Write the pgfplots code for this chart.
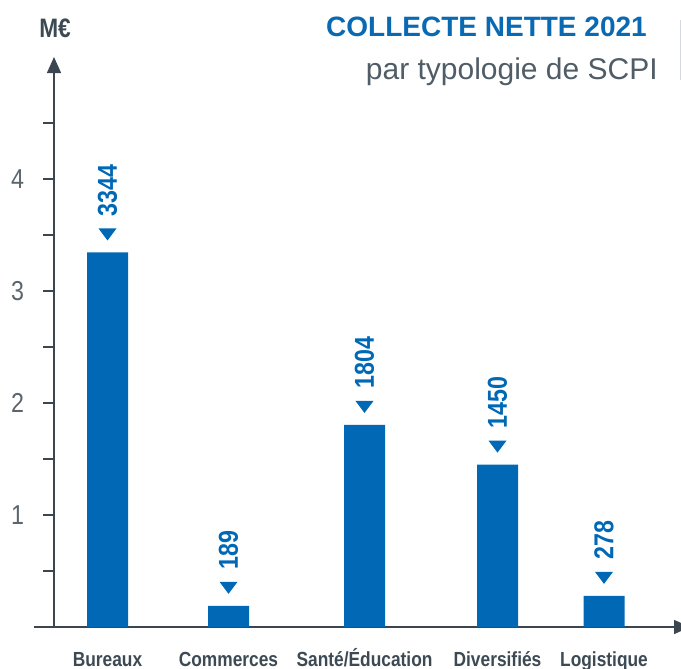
\documentclass[border=0pt]{standalone}
\usepackage{fontspec}
\setmainfont{Liberation Sans}
\newfontfamily\cond[FakeStretch=0.85]{Liberation Sans}
\usepackage{graphicx}
\usepackage{pgfplots}
\pgfplotsset{compat=1.18}
\usepackage{pgfplotstable}
\usetikzlibrary{arrows.meta}
\definecolor{barblue}{HTML}{0068B4}
\definecolor{titleblue}{HTML}{0A69B3}
\definecolor{axisgray}{HTML}{3B4650}
\definecolor{txtgray}{HTML}{3D4A54}
\definecolor{tickgray}{HTML}{5A656E}
\definecolor{subgray}{HTML}{505C66}
\definecolor{linegray}{HTML}{D5D9DD}

\pgfplotstableread{
x y lab
53.5 3.344 3344
174.5 0.189 189
310.5 1.804 1804
443.5 1.450 1450
550 0.278 278
}\datatable

\pgfdeclareplotmark{dtri}{%
  \pgfpathmoveto{\pgfpoint{-6.75pt}{4.5pt}}%
  \pgfpathlineto{\pgfpoint{6.75pt}{4.5pt}}%
  \pgfpathlineto{\pgfpoint{0pt}{-4.5pt}}%
  \pgfpathclose\pgfusepathqfill}

\begin{document}
\begin{tikzpicture}
\path[use as bounding box] (0,0) rectangle (510.75pt,501pt);
\begin{axis}[
  x=0.75pt, y=84pt, scale only axis,
  xmin=-20, xmax=636, ymin=0, ymax=5.089,
  anchor=south west, at={(25.5pt,30.75pt)},
  axis lines=middle,
  axis line style={draw=axisgray, line width=1.1pt, -{Triangle[width=10.5pt,length=12pt]}},
  enlargelimits=false, clip=false,
  ytick={1,2,3,4}, yticklabels={1,2,3,4},
  minor ytick={0.5,1.5,2.5,3.5,4.5},
  tick align=outside,
  major tick length=8.25pt, minor tick length=8.25pt,
  tick style={draw=axisgray, line width=1pt},
  xtick={53.5,174.5,310.5,443.5,550},
  xticklabels={Bureaux,Commerces,Santé/Éducation,Diversifiés,Logistique},
  major x tick style={draw=none},
  xticklabel style={anchor=base, inner sep=0pt, yshift=-21.5pt,
    font=\cond\bfseries\fontsize{15.3pt}{18pt}\selectfont, text=txtgray},
  yticklabel style={anchor=east, inner sep=0pt, xshift=-14pt,
    font=\cond\fontsize{20.5pt}{24pt}\selectfont, text=tickgray},
]
\addplot[ybar, bar width=30.75pt, bar shift=0pt, fill=barblue, draw=none,
  point meta=explicit symbolic,
  nodes near coords={\rotatebox{90}{\pgfplotspointmeta}},
  every node near coord/.append style={anchor=south, inner sep=0pt, yshift=27pt,
    font=\cond\bfseries\fontsize{20.5pt}{24pt}\selectfont, text=barblue}]
  table[x=x, y=y, meta=lab] {\datatable};
\addplot[only marks, mark=dtri, color=barblue, mark options={yshift=13.5pt}]
  table[x=x, y=y] {\datatable};
\end{axis}
\node[anchor=base east, inner sep=0pt, font=\bfseries\fontsize{21pt}{25pt}\selectfont, text=titleblue] at (485.25pt,473.25pt) {COLLECTE NETTE 2021};
\node[anchor=base east, inner sep=0pt, font=\fontsize{22.5pt}{27pt}\selectfont, text=subgray] at (493.5pt,441pt) {par typologie de SCPI};
\node[anchor=base west, inner sep=0pt, font=\cond\bfseries\fontsize{20pt}{24pt}\selectfont, text=txtgray] at (29.25pt,472.5pt) {M€};
\draw[linegray, line width=0.75pt] (510pt,486pt) -- (510pt,441pt);
\end{tikzpicture}
\end{document}
